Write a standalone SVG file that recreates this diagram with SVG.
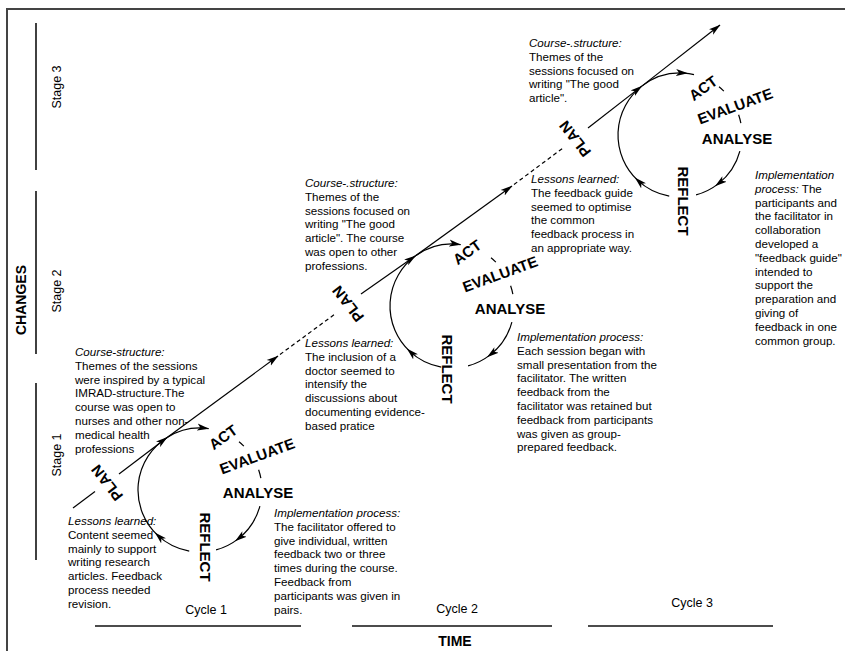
<svg xmlns="http://www.w3.org/2000/svg" width="845" height="651" viewBox="0 0 845 651">
<style>
.t{font-family:"Liberation Sans",Arial,sans-serif;font-size:11.6px;fill:#000}
.i{font-style:italic}
.b{font-family:"Liberation Sans",Arial,sans-serif;font-size:15px;font-weight:bold;fill:#000}
.s{font-family:"Liberation Sans",Arial,sans-serif;font-size:12.5px;fill:#000}
.ax{fill:none;stroke:#111;stroke-width:1.6}
.ln{fill:none;stroke:#000;stroke-width:1.2}
.dash{stroke-dasharray:4 3}
.arr{marker-end:url(#ah)}
.mid{marker-mid:url(#am)}
</style>
<defs>
<marker id="ah" markerUnits="userSpaceOnUse" viewBox="0 0 12 8" refX="11.5" refY="4" markerWidth="12" markerHeight="8" orient="auto"><path d="M0,0.5 L12,4 L0,7.5 L3,4 Z" fill="#000"/></marker>
<marker id="am" markerUnits="userSpaceOnUse" viewBox="0 0 12 8" refX="8" refY="4" markerWidth="12" markerHeight="8" orient="auto"><path d="M0,0.5 L12,4 L0,7.5 L3,4 Z" fill="#000"/></marker>
</defs>
<rect width="845" height="651" fill="#fff"/>
<path d="M7,651 V9 H845" fill="none" stroke="#444" stroke-width="2"/>

<g id="axes">
<line class="ax" x1="36" y1="23" x2="36" y2="170"/>
<line class="ax" x1="36" y1="191" x2="36" y2="354"/>
<line class="ax" x1="36" y1="383" x2="36" y2="560"/>
<line class="ax" x1="95" y1="626" x2="301" y2="626"/>
<line class="ax" x1="352" y1="626" x2="552" y2="626"/>
<line class="ax" x1="588" y1="626" x2="773" y2="626"/>
<text class="b" style="font-size:14px" transform="translate(21,300) rotate(-90)" text-anchor="middle" dy="0.36em">CHANGES</text>
<text class="b" style="font-size:14px" x="455" y="646" text-anchor="middle">TIME</text>
<text class="s" transform="translate(56,87) rotate(-90)" text-anchor="middle" dy="0.36em">Stage 3</text>
<text class="s" transform="translate(56,291) rotate(-90)" text-anchor="middle" dy="0.36em">Stage 2</text>
<text class="s" transform="translate(56,455) rotate(-90)" text-anchor="middle" dy="0.36em">Stage 1</text>
<text class="s" x="206" y="614" text-anchor="middle">Cycle 1</text>
<text class="s" x="457" y="613" text-anchor="middle">Cycle 2</text>
<text class="s" x="692" y="607" text-anchor="middle">Cycle 3</text>
</g>

<g id="connectors">
<!-- main diagonal -->
<line class="ln" x1="73" y1="508" x2="95" y2="491.5"/>
<line class="ln arr" x1="119" y1="474" x2="167.15" y2="437.42"/>
<line class="ln arr" x1="167.15" y1="437.42" x2="278" y2="356"/>
<line class="ln dash" x1="280" y1="354.5" x2="335" y2="314"/>
<line class="ln arr" x1="361" y1="294" x2="415.56" y2="255.84"/>
<line class="ln arr" x1="415.56" y1="255.84" x2="512" y2="186"/>
<line class="ln dash" x1="514" y1="184.5" x2="563" y2="148"/>
<line class="ln arr" x1="588" y1="128" x2="641.83" y2="86.14"/>
<line class="ln arr" x1="641.83" y1="86.14" x2="720" y2="25"/>
<!-- cycle 1 arcs, centre 200,490 -->
<path class="ln arr" d="M167.15,437.42 A62,62 0 0 1 208.63,428.6"/>
<path class="ln" d="M239.02,441.82 A62,62 0 0 1 243.84,446.16"/>
<path class="ln" d="M258.62,469.82 A62,62 0 0 1 260.86,478.17"/>
<path class="ln mid" d="M259.89,506.05 A62,62 0 0 1 238.17,538.86 A62,62 0 0 1 216.05,549.89"/>
<path class="ln mid" d="M189.23,551.06 A62,62 0 0 1 157.72,535.35 A62,62 0 0 1 167.15,437.42"/>
<!-- cycle 2 arcs, centre 452,306 -->
<path class="ln arr" d="M415.56,255.84 A62,62 0 0 1 460.63,244.6"/>
<path class="ln" d="M491.02,257.82 A62,62 0 0 1 495.84,262.16"/>
<path class="ln" d="M510.62,285.82 A62,62 0 0 1 512.86,294.17"/>
<path class="ln mid" d="M511.89,322.05 A62,62 0 0 1 490.17,354.86 A62,62 0 0 1 468.05,365.89"/>
<path class="ln mid" d="M441.23,367.06 A62,62 0 0 1 409.72,351.35 A62,62 0 0 1 415.56,255.84"/>
<!-- cycle 3 arcs, centre 680,135 -->
<path class="ln mid" d="M641.83,86.14 A62,62 0 0 1 684,73.1 A62,62 0 0 1 694,74.6"/>
<path class="ln" d="M719.02,86.82 A62,62 0 0 1 723.84,91.16"/>
<path class="ln" d="M738.62,114.82 A62,62 0 0 1 740.86,123.17"/>
<path class="ln mid" d="M739.89,151.05 A62,62 0 0 1 718.17,183.86 A62,62 0 0 1 696.05,194.89"/>
<path class="ln mid" d="M669.23,196.06 A62,62 0 0 1 637.72,180.35 A62,62 0 0 1 641.83,86.14"/>
</g>

<g id="cycle1-labels">
<text class="b" transform="translate(107,483) rotate(232)" text-anchor="middle" dy="0.36em">PLAN</text>
<text class="b" transform="translate(223,437) rotate(-36)" text-anchor="middle" dy="0.36em">ACT</text>
<text class="b" transform="translate(257,456) rotate(-20)" text-anchor="middle" dy="0.36em">EVALUATE</text>
<text class="b" x="258" y="497.5" text-anchor="middle">ANALYSE</text>
<text class="b" transform="translate(205,547) rotate(90)" text-anchor="middle" dy="0.36em">REFLECT</text>
</g>
<g id="cycle2-labels">
<text class="b" transform="translate(348,304) rotate(232)" text-anchor="middle" dy="0.36em">PLAN</text>
<text class="b" transform="translate(467,252) rotate(-36)" text-anchor="middle" dy="0.36em">ACT</text>
<text class="b" transform="translate(500,274) rotate(-20)" text-anchor="middle" dy="0.36em">EVALUATE</text>
<text class="b" x="510" y="313.5" text-anchor="middle">ANALYSE</text>
<text class="b" transform="translate(447,369) rotate(90)" text-anchor="middle" dy="0.36em">REFLECT</text>
</g>
<g id="cycle3-labels">
<text class="b" transform="translate(575,139) rotate(232)" text-anchor="middle" dy="0.36em">PLAN</text>
<text class="b" transform="translate(703,88) rotate(-36)" text-anchor="middle" dy="0.36em">ACT</text>
<text class="b" transform="translate(735,106) rotate(-20)" text-anchor="middle" dy="0.36em">EVALUATE</text>
<text class="b" x="737" y="143.5" text-anchor="middle">ANALYSE</text>
<text class="b" transform="translate(683.5,201) rotate(90)" text-anchor="middle" dy="0.36em">REFLECT</text>
</g>

<g id="c1-course">
<text class="t"><tspan class="i" x="75" y="356">Course-structure:</tspan><tspan x="75" y="369.8">Themes of the sessions</tspan><tspan x="75" y="383.6">were inspired by a typical</tspan><tspan x="75" y="397.4">IMRAD-structure.The</tspan><tspan x="75" y="411.2">course was open to</tspan><tspan x="75" y="425">nurses and other non-</tspan><tspan x="75" y="438.8">medical health</tspan><tspan x="75" y="452.6">professions</tspan></text>
</g>
<g id="c1-lessons">
<text class="t"><tspan class="i" x="68" y="525">Lessons learned:</tspan><tspan x="68" y="538.8">Content seemed</tspan><tspan x="68" y="552.6">mainly to support</tspan><tspan x="68" y="566.4">writing research</tspan><tspan x="68" y="580.2">articles. Feedback</tspan><tspan x="68" y="594">process needed</tspan><tspan x="68" y="607.8">revision.</tspan></text>
</g>
<g id="c1-impl">
<text class="t"><tspan class="i" x="274" y="517">Implementation process:</tspan><tspan x="274" y="530.8">The facilitator offered to</tspan><tspan x="274" y="544.6">give individual, written</tspan><tspan x="274" y="558.4">feedback two or three</tspan><tspan x="274" y="572.2">times during the course.</tspan><tspan x="274" y="586">Feedback from</tspan><tspan x="274" y="599.8">participants was given in</tspan><tspan x="274" y="613.6">pairs.</tspan></text>
</g>
<g id="c2-course">
<text class="t"><tspan class="i" x="305" y="187">Course-.structure:</tspan><tspan x="305" y="200.8">Themes of the</tspan><tspan x="305" y="214.6">sessions focused on</tspan><tspan x="305" y="228.4">writing "The good</tspan><tspan x="305" y="242.2">article". The course</tspan><tspan x="305" y="256">was open to other</tspan><tspan x="305" y="269.8">professions.</tspan></text>
</g>
<g id="c2-lessons">
<text class="t"><tspan class="i" x="305" y="347">Lessons learned:</tspan><tspan x="305" y="360.8">The inclusion of a</tspan><tspan x="305" y="374.6">doctor seemed to</tspan><tspan x="305" y="388.4">intensify the</tspan><tspan x="305" y="402.2">discussions about</tspan><tspan x="305" y="416">documenting evidence-</tspan><tspan x="305" y="429.8">based pratice</tspan></text>
</g>
<g id="c2-impl">
<text class="t"><tspan class="i" x="517" y="341">Implementation process:</tspan><tspan x="517" y="354.8">Each session began with</tspan><tspan x="517" y="368.6">small presentation from the</tspan><tspan x="517" y="382.4">facilitator. The written</tspan><tspan x="517" y="396.2">feedback from the</tspan><tspan x="517" y="410">facilitator was retained but</tspan><tspan x="517" y="423.8">feedback from participants</tspan><tspan x="517" y="437.6">was given as group-</tspan><tspan x="517" y="451.4">prepared feedback.</tspan></text>
</g>
<g id="c3-course">
<text class="t"><tspan class="i" x="529" y="47">Course-.structure:</tspan><tspan x="529" y="60.8">Themes of the</tspan><tspan x="529" y="74.6">sessions focused on</tspan><tspan x="529" y="88.4">writing "The good</tspan><tspan x="529" y="102.2">article".</tspan></text>
</g>
<g id="c3-lessons">
<text class="t"><tspan class="i" x="531" y="183">Lessons learned:</tspan><tspan x="531" y="196.8">The feedback guide</tspan><tspan x="531" y="210.6">seemed to optimise</tspan><tspan x="531" y="224.4">the common</tspan><tspan x="531" y="238.2">feedback process in</tspan><tspan x="531" y="252">an appropriate way.</tspan></text>
</g>
<g id="c3-impl">
<text class="t"><tspan class="i" x="755" y="179">Implementation</tspan><tspan class="i" x="755" y="192.8">process:</tspan><tspan> The</tspan><tspan x="755" y="206.6">participants and</tspan><tspan x="755" y="220.4">the facilitator in</tspan><tspan x="755" y="234.2">collaboration</tspan><tspan x="755" y="248">developed a</tspan><tspan x="755" y="261.8">"feedback guide"</tspan><tspan x="755" y="275.6">intended to</tspan><tspan x="755" y="289.4">support the</tspan><tspan x="755" y="303.2">preparation and</tspan><tspan x="755" y="317">giving of</tspan><tspan x="755" y="330.8">feedback in one</tspan><tspan x="755" y="344.6">common group.</tspan></text>
</g>
</svg>
